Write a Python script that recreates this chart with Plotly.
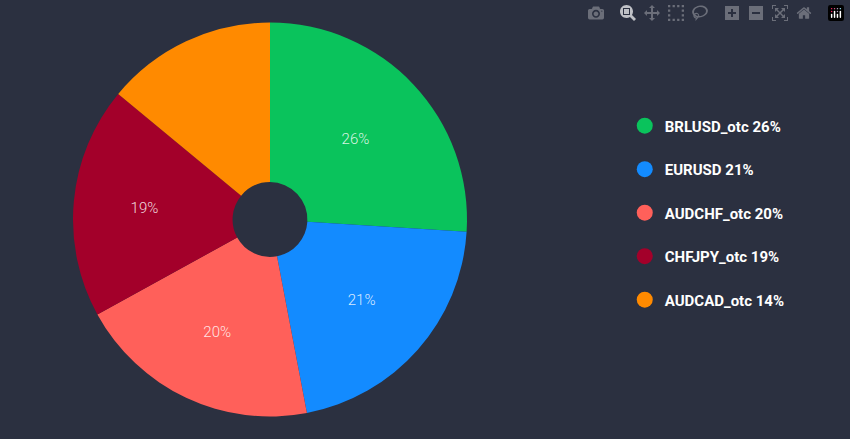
import plotly.graph_objects as go

labels = ["BRLUSD_otc", "EURUSD", "AUDCHF_otc", "CHFJPY_otc", "AUDCAD_otc"]
values = [26, 21, 20, 19, 14]
colors = ["#0ac35c", "#138bff", "#ff605a", "#a3002a", "#ff8a00"]
slice_text = ["26%", "21%", "20%", "19%", ""]

bg = "#2b3040"
fig = go.Figure()
fig.add_trace(go.Pie(
    labels=labels, values=values, sort=False, direction="clockwise", rotation=0,
    hole=0.19, marker=dict(colors=colors, line=dict(width=0)),
    text=slice_text, textinfo="text", textposition="inside", insidetextorientation="horizontal",
    textfont=dict(family="Roboto", size=15, color="rgba(255,255,255,0.85)", weight=300),
    showlegend=False, hoverinfo="label+percent",
    domain=dict(x=[73/850, 467/850], y=[1-417/439, 1-22/439]),
))
for i, (l, v, c) in enumerate(zip(labels, values, colors)):
    fig.add_trace(go.Scatter(
        x=[None], y=[None], mode="markers", name=f"{l} {v}%",
        marker=dict(color=c, size=16, symbol="circle"), legendgroup=str(i),
    ))
fig.update_layout(
    width=850, height=439, paper_bgcolor=bg, plot_bgcolor=bg,
    margin=dict(l=0, r=0, t=0, b=0),
    xaxis=dict(visible=False), yaxis=dict(visible=False),
    legend=dict(x=0.735, y=0.515, xanchor="left", yanchor="middle", tracegroupgap=21,
                font=dict(family="Roboto", size=15, color="white", weight="bold"),
                bgcolor="rgba(0,0,0,0)"),
)
fig.write_html("out.html")
with open("out.html", encoding="utf-8") as f:
    html = f.read()
html = html.replace("<body>", f'<body style="margin:0;background:{bg};overflow:hidden">', 1)
with open("out.html", "w", encoding="utf-8") as f:
    f.write(html)
